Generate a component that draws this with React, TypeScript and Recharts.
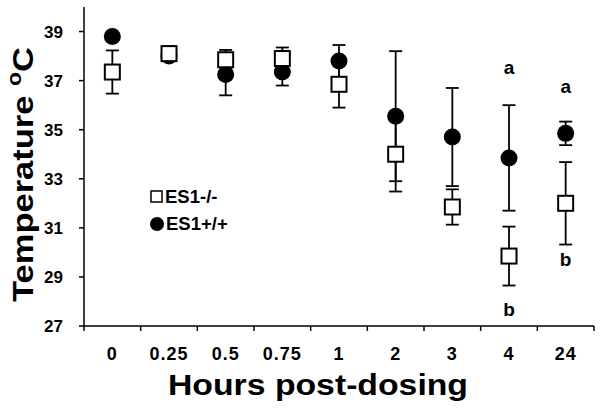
import React from "react";
import {
  ComposedChart,
  Line,
  XAxis,
  YAxis,
  ErrorBar,
  ReferenceDot,
  Legend,
  Label,
} from "recharts";

const categories = ["0", "0.25", "0.5", "0.75", "1", "2", "3", "4", "24"];
// ES1-/- (open squares)
const koMean = [37.35, 38.1, 37.85, 37.9, 36.85, 34.0, 31.85, 29.85, 32.0];
const koErr = [0.88, 0.3, 0.4, 0.45, 0.95, 1.52, 0.72, 1.2, 1.68];
// ES1+/+ (filled circles)
const wtMean = [38.8, 38.0, 37.25, 37.35, 37.8, 35.55, 34.7, 33.85, 34.85];
const wtErr = [0.15, 0.2, 0.85, 0.55, 0.65, 2.65, 2.0, 2.15, 0.48];

const yTicks = [27, 29, 31, 33, 35, 37, 39];

// significance letters
const sigCats = ["4", "24", "4", "24"];
const sigValues = [37.55, 36.75, 27.7, 29.7];
const sigText = ["a", "a", "b", "b"];

const data = categories.map((cat, i) => ({
  cat,
  ko: koMean[i],
  koErr: koErr[i],
  wt: wtMean[i],
  wtErr: wtErr[i],
}));

const W = 602;
const H = 409;
const LEFT = 84;
const RIGHT = 8;
const TOP = 7;
const XAXIS_H = 83;
const BAND = (W - LEFT - RIGHT) / categories.length;
const FONT = "'Liberation Sans', Arial, sans-serif";

const SquareDot = (p: any) => {
  if (p.cx == null || p.cy == null) return null;
  return (
    <rect
      key={`sq-${p.index}`}
      x={p.cx - 7.5}
      y={p.cy - 7.5}
      width={15}
      height={15}
      fill="#fff"
      stroke="#000"
      strokeWidth={2}
    />
  );
};

const CircleDot = (p: any) => {
  if (p.cx == null || p.cy == null) return null;
  return <circle key={`ci-${p.index}`} cx={p.cx} cy={p.cy} r={8.5} fill="#000" />;
};

const XTick = (props: any) => {
  const { x, y, payload, index } = props;
  const last = index === categories.length - 1;
  return (
    <g>
      <line x1={x - BAND / 2} x2={x - BAND / 2} y1={y} y2={y + 5} stroke="#000" strokeWidth={1.5} />
      {last && (
        <line x1={x + BAND / 2} x2={x + BAND / 2} y1={y} y2={y + 5} stroke="#000" strokeWidth={1.5} />
      )}
      <text
        x={x}
        y={y + 34}
        textAnchor="middle"
        fontFamily={FONT}
        fontWeight={700}
        fontSize={18}
        letterSpacing={1}
        fill="#000"
      >
        {payload.value}
      </text>
    </g>
  );
};

const renderLegend = () => (
  <div style={{ fontFamily: FONT, fontWeight: 700, fontSize: 18.5, color: "#000" }}>
    <div style={{ display: "flex", alignItems: "center", height: 27 }}>
      <svg width={15} height={14} style={{ marginRight: 1 }}>
        <rect x={2} y={1} width={11} height={11} fill="#fff" stroke="#000" strokeWidth={1.5} />
      </svg>
      <span>ES1-/-</span>
    </div>
    <div style={{ display: "flex", alignItems: "center", height: 27 }}>
      <svg width={16} height={16} style={{ marginRight: 1 }}>
        <circle cx={8} cy={8} r={7} fill="#000" />
      </svg>
      <span>ES1+/+</span>
    </div>
  </div>
);

const YTitle = (props: any) => {
  const vb = props.viewBox || {};
  const cx = 22;
  const cy = (vb.y ?? TOP) + (vb.height ?? 319) / 2 + 8;
  return (
    <text
      x={cx}
      y={cy}
      transform={`rotate(-90, ${cx}, ${cy})`}
      textAnchor="middle"
      dominantBaseline="central"
      fontFamily={FONT}
      fontWeight={700}
      fontSize={30}
      fill="#000"
      textLength={255}
      lengthAdjust="spacingAndGlyphs"
    >
      Temperature <tspan fontSize={20} dy={-8}>o</tspan>
      <tspan dy={8}>C</tspan>
    </text>
  );
};

export default function App() {
  return (
    <div style={{ position: "absolute", left: 0, top: 0, width: W, height: H, background: "#fff" }}>
      <ComposedChart
        width={W}
        height={H}
        data={data}
        margin={{ top: TOP, right: RIGHT, left: 0, bottom: 0 }}
      >
        <XAxis
          dataKey="cat"
          scale="band"
          height={XAXIS_H}
          axisLine={{ stroke: "#000", strokeWidth: 1.5 }}
          tickLine={false}
          tickSize={0}
          tickMargin={0}
          interval={0}
          tick={<XTick />}
        />
        <YAxis
          width={LEFT}
          domain={[27, 40]}
          ticks={yTicks}
          interval={0}
          axisLine={{ stroke: "#000", strokeWidth: 1.5 }}
          tickLine={{ stroke: "#000", strokeWidth: 1.5 }}
          tickSize={5}
          tickMargin={16}
          tick={{ fill: "#000", fontSize: 17, fontWeight: 700, fontFamily: FONT }}
        >
          <Label content={<YTitle />} />
        </YAxis>
        <Line
          dataKey="wt"
          name="ES1+/+"
          stroke="none"
          dot={CircleDot}
          activeDot={false}
          isAnimationActive={false}
        >
          <ErrorBar dataKey="wtErr" width={6.5} stroke="#000" strokeWidth={1.8} direction="y" />
        </Line>
        <Line
          dataKey="ko"
          name="ES1-/-"
          stroke="none"
          dot={SquareDot}
          activeDot={false}
          isAnimationActive={false}
        >
          <ErrorBar dataKey="koErr" width={6.5} stroke="#000" strokeWidth={1.8} direction="y" />
        </Line>
        {sigCats.map((c, i) => (
          <ReferenceDot
            key={`sig-${i}`}
            x={c}
            y={sigValues[i]}
            r={0}
            fill="none"
            stroke="none"
            label={{
              value: sigText[i],
              position: "center",
              fill: "#000",
              fontSize: 19,
              fontWeight: 700,
              fontFamily: FONT,
            }}
          />
        ))}
        <Legend
          layout="vertical"
          align="center"
          verticalAlign="middle"
          content={renderLegend}
          wrapperStyle={{ left: 149, top: 183, width: "auto" }}
        />
      </ComposedChart>
      <svg
        width={W}
        height={H}
        style={{ position: "absolute", left: 0, top: 0, pointerEvents: "none" }}
      >
        <text
          x={318}
          y={395}
          textAnchor="middle"
          fontFamily={FONT}
          fontWeight={700}
          fontSize={30}
          fill="#000"
          textLength={300}
          lengthAdjust="spacingAndGlyphs"
        >
          Hours post-dosing
        </text>
      </svg>
    </div>
  );
}
